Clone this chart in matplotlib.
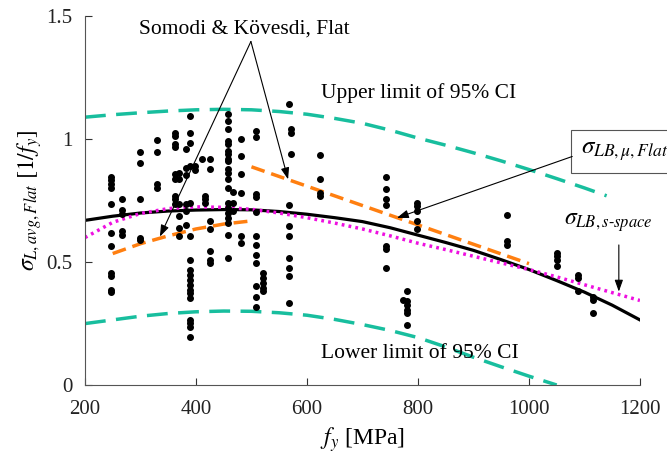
import numpy as np
import matplotlib
matplotlib.use('Agg')
import matplotlib.pyplot as plt

plt.rcParams['font.family'] = ['Liberation Serif', 'DejaVu Serif']
plt.rcParams['mathtext.fontset'] = 'stix'

# scatter data, grouped by yield strength column
fy_cols = [247, 266, 299, 329, 362, 369, 382, 389, 398, 410, 416, 425, 457, 467,
           482, 508, 509, 521, 568, 572, 623, 742, 773, 780, 798, 960, 1050, 1088, 1115]
sig_cols = [
    [0.848, 0.834, 0.82, 0.803, 0.735, 0.619, 0.567, 0.456, 0.442, 0.388, 0.377],
    [0.755, 0.714, 0.694, 0.626, 0.612],
    [0.95, 0.905, 0.759, 0.599, 0.592],
    [0.996, 0.948, 0.82, 0.803],
    [1.027, 1.014, 0.98, 0.97, 0.857, 0.837, 0.769, 0.755, 0.737],
    [0.864, 0.837, 0.735, 0.687, 0.639, 0.605],
    [0.962, 0.884, 0.853, 0.735, 0.707, 0.653],
    [1.095, 1.027, 0.986, 0.891, 0.741, 0.605, 0.51, 0.469, 0.449, 0.429, 0.408,
     0.388, 0.374, 0.354, 0.265, 0.252, 0.238, 0.197],
    [0.89, 0.876],
    [0.92],
    [0.769, 0.755, 0.741],
    [0.92, 0.88, 0.667, 0.633, 0.544, 0.51, 0.497],
    [1.102, 1.075, 1.041, 0.993, 0.98, 0.952, 0.939, 0.918, 0.912, 0.878, 0.864,
     0.837, 0.803, 0.741, 0.721, 0.7, 0.68, 0.66, 0.609, 0.517],
    [0.785, 0.741, 0.707],
    [1.003, 0.932, 0.857, 0.782, 0.605, 0.578],
    [1.034, 1.01, 0.778, 0.765, 0.705],
    [0.608, 0.571, 0.528, 0.497, 0.401, 0.36, 0.317],
    [0.456, 0.435, 0.415, 0.394, 0.381],
    [1.143, 0.731, 0.646, 0.605, 0.517, 0.476, 0.442, 0.333],
    [1.041, 1.027, 0.939],
    [0.935, 0.837, 0.78, 0.769],
    [0.848, 0.796, 0.758, 0.731, 0.565, 0.554, 0.476],
    [0.347],
    [0.381, 0.34, 0.327, 0.306, 0.293, 0.245],
    [0.741, 0.728, 0.707, 0.667, 0.633],
    [0.69, 0.585, 0.571],
    [0.537, 0.524, 0.51, 0.483],
    [0.449, 0.435, 0.381],
    [0.36, 0.347, 0.295],
]

# fitted curves
fy_fit = [200, 250, 300, 350, 400, 450, 500, 550, 600, 650, 700, 750, 800, 850,
          900, 950, 1000, 1050, 1100, 1150, 1200]
sig_lb = [0.670, 0.687, 0.700, 0.708, 0.712, 0.714, 0.713, 0.706, 0.695, 0.681, 0.665,
          0.640, 0.610, 0.580, 0.548, 0.510, 0.470, 0.425, 0.378, 0.325, 0.265]
sig_sspace = [0.600, 0.662, 0.698, 0.718, 0.725, 0.723, 0.715, 0.700, 0.681, 0.659, 0.635,
              0.607, 0.577, 0.551, 0.524, 0.497, 0.470, 0.440, 0.408, 0.376, 0.344]

fy_up = [200, 250, 300, 350, 400, 450, 500, 550, 600, 650, 700, 750, 800, 850, 900,
         950, 1000, 1050, 1100, 1140]
ci_up = [1.090, 1.100, 1.108, 1.115, 1.120, 1.122, 1.120, 1.113, 1.102, 1.085, 1.065,
         1.037, 1.005, 0.976, 0.945, 0.912, 0.877, 0.840, 0.802, 0.770]
fy_lo = [200, 250, 300, 350, 400, 450, 500, 550, 600, 650, 700, 750, 800, 850, 900,
         950, 1000, 1050]
ci_lo = [0.250, 0.265, 0.280, 0.291, 0.298, 0.301, 0.300, 0.294, 0.284, 0.267, 0.246,
         0.222, 0.193, 0.155, 0.113, 0.074, 0.036, 0.0]

fy_sk1 = [250, 300, 350, 400, 450, 500]
sig_sk1 = [0.535, 0.575, 0.607, 0.635, 0.655, 0.668]
fy_sk2 = [500, 1000]
sig_sk2 = [0.888, 0.494]

fig = plt.figure(figsize=(6.67, 4.59), dpi=100)
ax = fig.add_axes([0.1274, 0.1612, 0.832, 0.803])

fy_all = np.concatenate([[f] * len(s) for f, s in zip(fy_cols, sig_cols)])
sig_all = np.concatenate(sig_cols)
ax.plot(fy_all, sig_all, 'o', color='k', ms=4, zorder=3)

teal = '#18BE9E'
orange = '#FF7F10'
ax.plot(fy_up, ci_up, color=teal, lw=2.5, dashes=(6, 3))
ax.plot(fy_lo, ci_lo, color=teal, lw=2.5, dashes=(6, 3))
ax.plot(fy_fit, sig_lb, color='k', lw=2.3)
ax.plot(fy_fit, sig_sspace, color='#EE10E0', lw=2.5, dashes=(0.8, 1.2))
ax.plot(fy_sk1, sig_sk1, color=orange, lw=2.5, dashes=(4, 2))
ax.plot(fy_sk2, sig_sk2, color=orange, lw=2.5, dashes=(4, 2))

ax.set_xlim(200, 1200)
ax.set_ylim(0, 1.5)
ax.set_xticks([200, 400, 600, 800, 1000, 1200])
ax.set_yticks([0, 0.5, 1, 1.5])
ax.set_yticklabels(['0', '0.5', '1', '1.5'])
ax.tick_params(direction='in', length=5, labelsize=15, colors='#333333',
               labelcolor='#222222')
ax.tick_params(axis='x', pad=11)
ax.tick_params(axis='y', pad=9)
for s in ['top', 'right']:
    ax.spines[s].set_visible(False)
for s in ['left', 'bottom']:
    ax.spines[s].set_color('#555555')

ax.set_xlabel(r'$f_y$ [MPa]', fontsize=17, labelpad=4)
ax.set_ylabel(r'$\sigma_{L,avg,Flat}\ [1/f_y]$', fontsize=17, labelpad=2)

arrow = dict(arrowstyle='-|>,head_length=0.7,head_width=0.25', color='k', lw=0.8,
             shrinkA=0, shrinkB=0)
ax.text(488, 1.45, 'Somodi & Kövesdi, Flat', fontsize=15.5, ha='center', va='center')
ax.annotate('', xy=(335, 0.604), xytext=(499, 1.398), arrowprops=arrow)
ax.annotate('', xy=(566, 0.837), xytext=(499, 1.398), arrowprops=arrow)

ax.text(626, 1.19, 'Upper limit of 95% CI', fontsize=15.5, ha='left', va='center')
ax.text(626, 0.13, 'Lower limit of 95% CI', fontsize=15.5, ha='left', va='center')

ax.text(1093, 0.95, r'$\sigma_{LB,\mu,Flat}$', fontsize=18, ha='left', va='center',
        bbox=dict(boxstyle='square,pad=0.4', fc='white', ec='#555555', lw=0.8),
        clip_on=False)
ax.annotate('', xy=(762, 0.68), xytext=(1078, 0.93), arrowprops=arrow)

ax.text(1063, 0.66, r'$\sigma_{LB,s\text{-}space}$', fontsize=17, ha='left', va='center')
ax.annotate('', xy=(1162, 0.38), xytext=(1162, 0.57), arrowprops=arrow)

fig.savefig('out.png', dpi=100)
